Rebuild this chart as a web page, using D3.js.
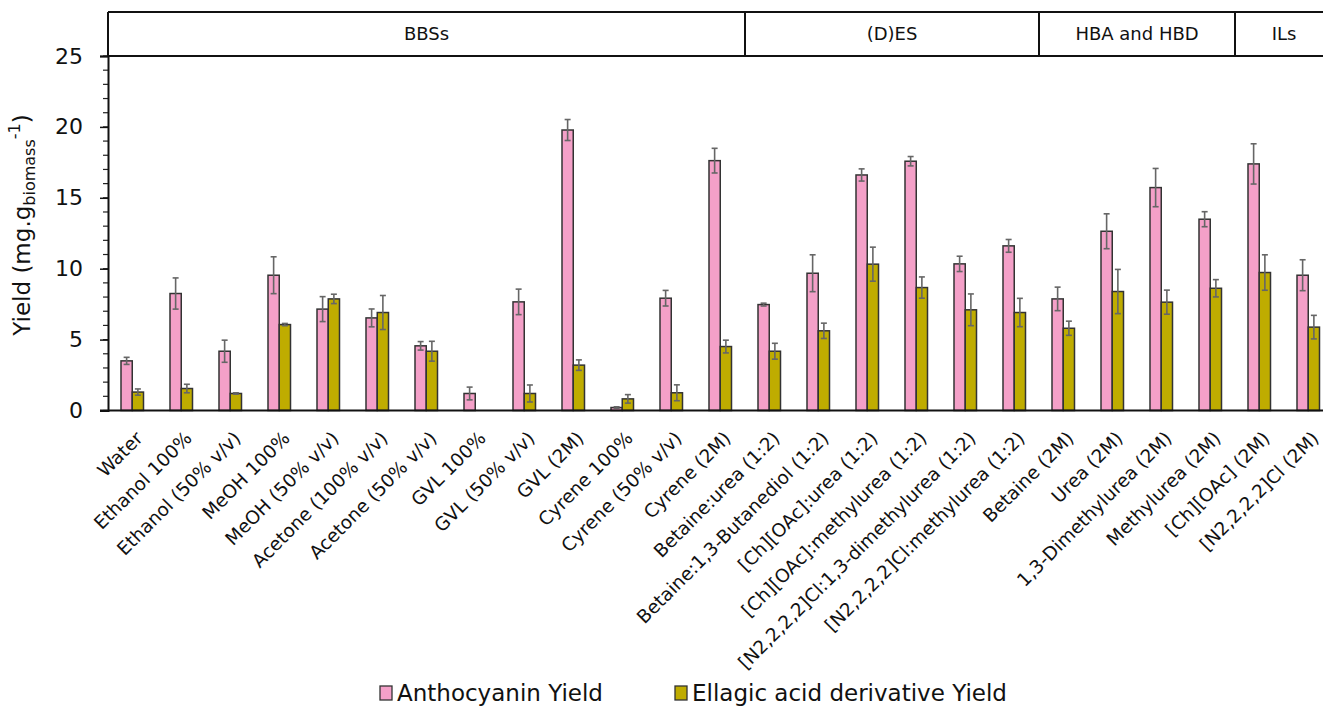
<!DOCTYPE html>
<html>
<head>
<meta charset="utf-8">
<script src="https://cdnjs.cloudflare.com/ajax/libs/d3/7.8.5/d3.min.js"></script>
<style>
  html, body { margin: 0; padding: 0; background: #fff; }
  svg { display: block; font-family: "DejaVu Sans", "Noto Sans", sans-serif; }
</style>
</head>
<body>
<svg id="chart" width="1323" height="707"></svg>
<script>
const categories = [
  "Water", "Ethanol 100%", "Ethanol (50% v/v)", "MeOH 100%", "MeOH (50% v/v)",
  "Acetone (100% v/v)", "Acetone (50% v/v)", "GVL 100%", "GVL (50% v/v)", "GVL (2M)",
  "Cyrene 100%", "Cyrene (50% v/v)", "Cyrene (2M)", "Betaine:urea (1:2)",
  "Betaine:1,3-Butanediol (1:2)", "[Ch][OAc]:urea (1:2)", "[Ch][OAc]:methylurea (1:2)",
  "[N2,2,2,2]Cl:1,3-dimethylurea (1:2)", "[N2,2,2,2]Cl:methylurea (1:2)", "Betaine (2M)",
  "Urea (2M)", "1,3-Dimethylurea (2M)", "Methylurea (2M)", "[Ch][OAc] (2M)", "[N2,2,2,2]Cl (2M)"
];
const seriesNames = ["Anthocyanin Yield", "Ellagic acid derivative Yield"];
const anthocyanin = [3.5, 8.25, 4.18, 9.54, 7.15, 6.53, 4.56, 1.2, 7.66, 19.78, 0.21, 7.92, 17.62,
  7.47, 9.68, 16.61, 17.58, 10.34, 11.61, 7.87, 12.64, 15.72, 13.49, 17.39, 9.54];
const anthocyaninErr = [0.25, 1.1, 0.78, 1.3, 0.88, 0.63, 0.3, 0.45, 0.9, 0.74, 0.05, 0.55, 0.87,
  0.1, 1.3, 0.43, 0.33, 0.54, 0.45, 0.83, 1.23, 1.35, 0.53, 1.42, 1.09];
const ellagic = [1.3, 1.55, 1.2, 6.06, 7.87, 6.91, 4.18, 0, 1.2, 3.2, 0.82, 1.25, 4.51,
  4.18, 5.62, 10.32, 8.67, 7.1, 6.91, 5.8, 8.39, 7.64, 8.62, 9.73, 5.88];
const ellagicErr = [0.22, 0.3, 0.05, 0.08, 0.33, 1.2, 0.7, 0, 0.6, 0.37, 0.3, 0.56, 0.45,
  0.56, 0.54, 1.2, 0.75, 1.12, 1.0, 0.5, 1.56, 0.85, 0.61, 1.25, 0.83];
const groupNames = ["BBSs", "(D)ES", "HBA and HBD", "ILs"];
const groupStart = [0, 13, 19, 23];
const groupEnd = [12, 18, 22, 24];
const yTicks = [0, 5, 10, 15, 20, 25];

(function () {
const colors = ["#F4A0C8", "#BFAC00"];
const svg = d3.select("#chart");
const mLeft = 108, mTop = 56, mBottom = 410.5, step = 49;
const headerTop = 12;
const mRight = mLeft + step * categories.length;

const x = d3.scaleBand().domain(categories).range([mLeft, mRight]).padding(0);
const xs = d3.scaleBand().domain(seriesNames).range([-11.5, 11]).padding(0);
const y = d3.scaleLinear().domain([0, 25]).range([mBottom, mTop]);

const series = [
  {name: seriesNames[0], vals: anthocyanin, errs: anthocyaninErr},
  {name: seriesNames[1], vals: ellagic, errs: ellagicErr}
];

// minor ticks
svg.append("g").selectAll("line").data(d3.range(0, 26, 1)).join("line")
  .attr("x1", mLeft - 5).attr("x2", mLeft).attr("y1", d => y(d)).attr("y2", d => y(d))
  .attr("stroke", "#222").attr("stroke-width", 1.2);

// y axis
const yAxis = d3.axisLeft(y).tickValues(yTicks).tickSize(8).tickPadding(17);
const gy = svg.append("g").attr("transform", `translate(${mLeft},0)`).call(yAxis);
gy.select(".domain").attr("stroke", "#111").attr("stroke-width", 2);
gy.selectAll(".tick line").attr("stroke", "#111").attr("stroke-width", 1.5);
gy.selectAll(".tick text").attr("font-size", 22).attr("fill", "#111")
  .attr("font-family", "'DejaVu Sans', sans-serif");

// bars
series.forEach((s, si) => {
  const g = svg.append("g");
  categories.forEach((c, i) => {
    const v = s.vals[i];
    if (v <= 0) return;
    const bx = x(c) + x.bandwidth() / 2 + xs(s.name);
    g.append("rect")
      .attr("x", bx).attr("y", y(v))
      .attr("width", xs.bandwidth()).attr("height", y(0) - y(v))
      .attr("fill", colors[si]).attr("stroke", "#333").attr("stroke-width", 1.5);
    const cx = bx + xs.bandwidth() / 2;
    const e = s.errs[i];
    if (e > 0) {
      const eg = svg.append("g").attr("stroke", "#666").attr("stroke-width", 1.6);
      eg.append("line").attr("x1", cx).attr("x2", cx).attr("y1", y(v + e)).attr("y2", y(v - e));
      eg.append("line").attr("x1", cx - 3).attr("x2", cx + 3).attr("y1", y(v + e)).attr("y2", y(v + e));
      eg.append("line").attr("x1", cx - 3).attr("x2", cx + 3).attr("y1", y(v - e)).attr("y2", y(v - e));
    }
  });
});

// x axis line
svg.append("line").attr("x1", mLeft - 8).attr("x2", mRight).attr("y1", y(0)).attr("y2", y(0))
  .attr("stroke", "#111").attr("stroke-width", 2);

// category labels
svg.append("g").selectAll("text").data(categories).join("text")
  .attr("transform", d => `translate(${x(d) + x.bandwidth() / 2 + 2},430) rotate(-45)`)
  .attr("text-anchor", "end").attr("dy", "0.72em")
  .attr("font-size", 18.5).attr("fill", "#111").text(d => d);

// header box
const hg = svg.append("g").attr("stroke", "#111").attr("stroke-width", 2).attr("fill", "none");
hg.append("line").attr("x1", mLeft).attr("x2", mRight).attr("y1", headerTop).attr("y2", headerTop);
hg.append("line").attr("x1", mLeft).attr("x2", mRight).attr("y1", mTop).attr("y2", mTop);
groupStart.forEach((s) => {
  const xl = x(categories[s]);
  hg.append("line").attr("x1", xl).attr("x2", xl).attr("y1", headerTop).attr("y2", mTop);
});
hg.append("line").attr("x1", mRight).attr("x2", mRight).attr("y1", headerTop).attr("y2", mBottom);
svg.append("g").selectAll("text").data(groupNames).join("text")
  .attr("x", (d, i) => (x(categories[groupStart[i]]) + x(categories[groupEnd[i]]) + x.bandwidth()) / 2)
  .attr("y", (headerTop + mTop) / 2).attr("dy", "0.36em")
  .attr("text-anchor", "middle").attr("font-size", 18).attr("fill", "#111").text(d => d);

// y title
const t = svg.append("text").attr("transform", "translate(30,225) rotate(-90)")
  .attr("text-anchor", "middle").attr("font-size", 23).attr("fill", "#111");
t.append("tspan").text("Yield (mg.g");
t.append("tspan").attr("font-size", 16).attr("dy", 5).text("biomass");
t.append("tspan").attr("font-size", 16).attr("dy", -15).text("-1");
t.append("tspan").attr("dy", 10).text(")");

// legend
const legX = [380, 675];
const lg = svg.append("g");
seriesNames.forEach((n, i) => {
  lg.append("rect").attr("x", legX[i]).attr("y", 686).attr("width", 12).attr("height", 14)
    .attr("fill", colors[i]).attr("stroke", "#333").attr("stroke-width", 1.3);
  lg.append("text").attr("x", legX[i] + 17).attr("y", 700.5).attr("font-size", 23)
    .attr("fill", "#111").text(n);
});
})();
</script>
</body>
</html>
